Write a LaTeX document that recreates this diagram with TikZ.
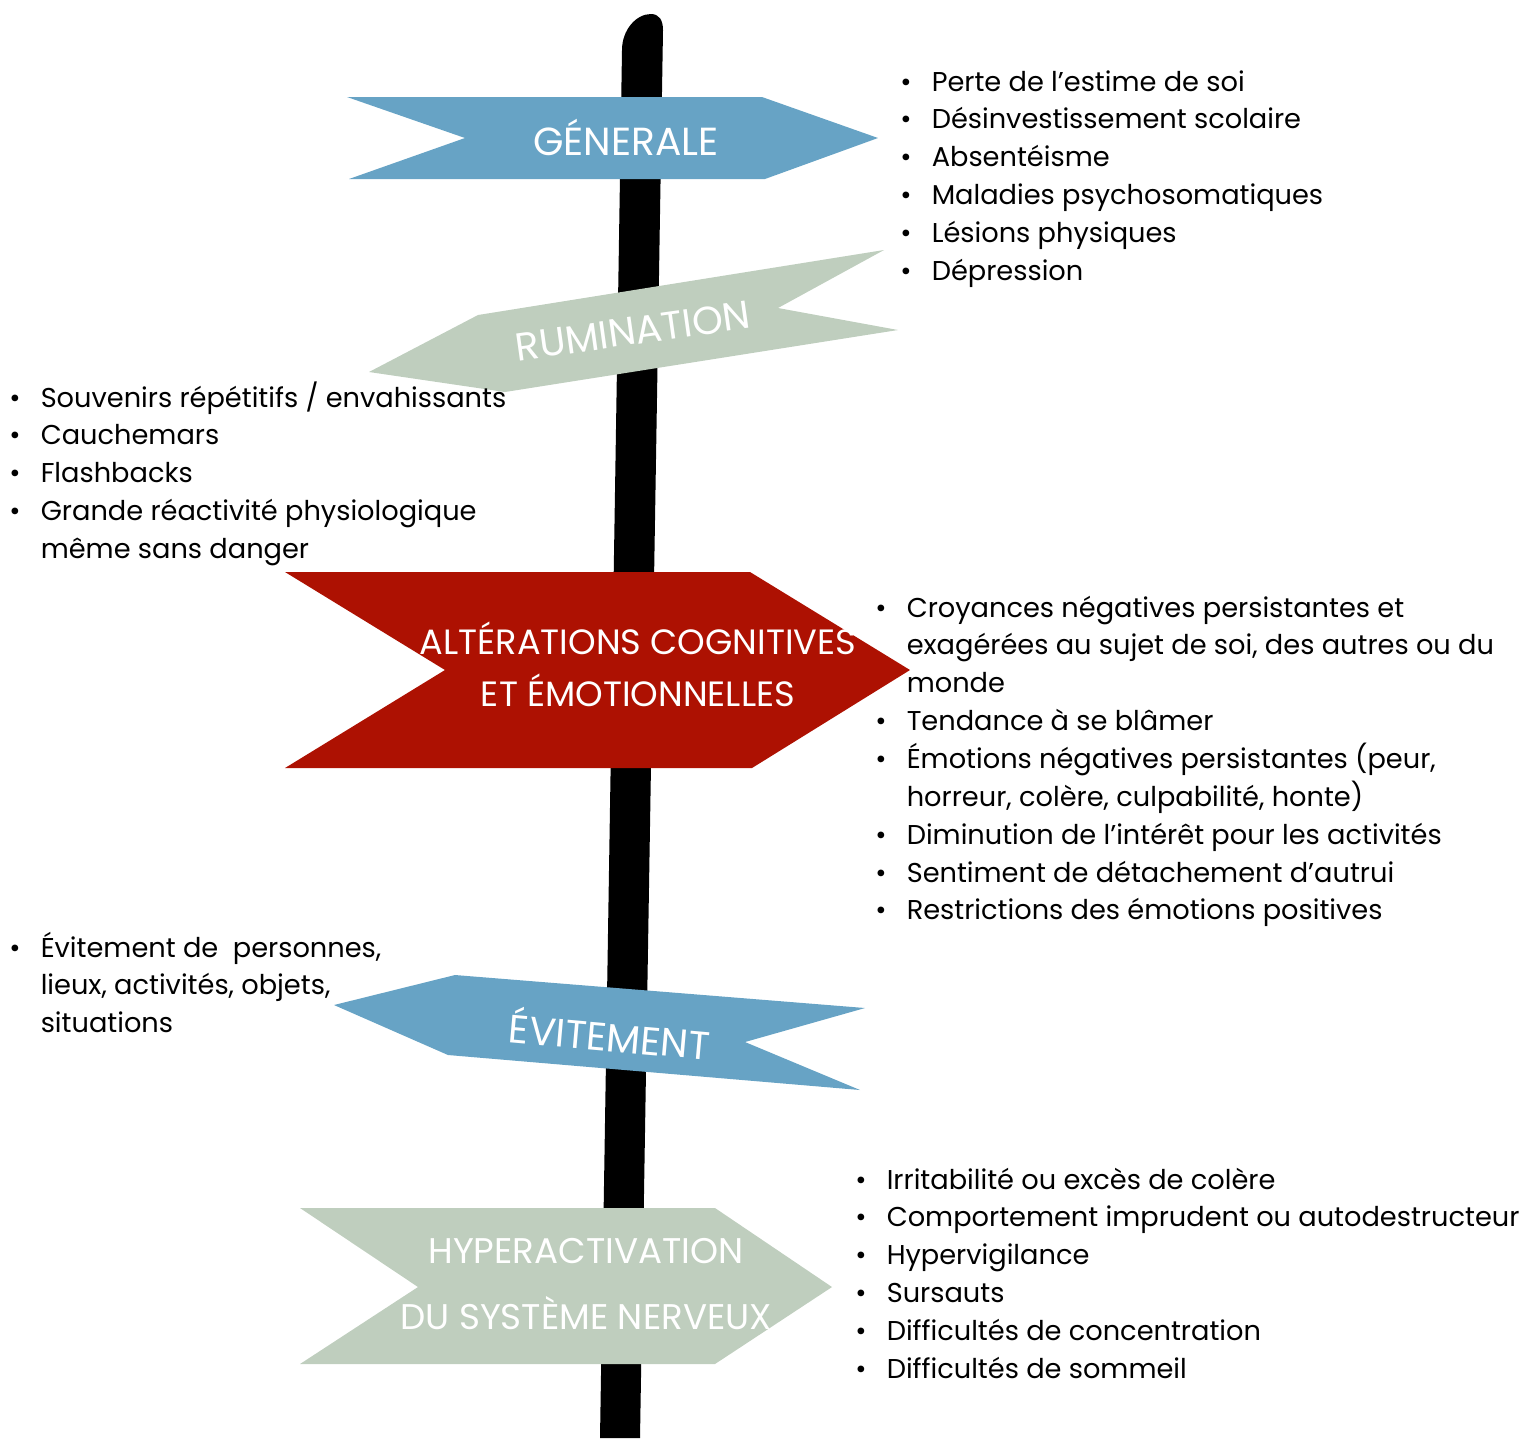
\documentclass[tikz,border=0pt]{standalone}
\usepackage{fontspec}
\setmainfont{Poppins}
\usepackage{xcolor}
\definecolor{signblue}{HTML}{67A3C5}
\definecolor{signsage}{HTML}{BFCEBE}
\definecolor{signred}{HTML}{AD1102}
\tikzset{
  signtxt/.style={text=white, inner sep=0pt, anchor=center},
  listtxt/.style={anchor=base west, inner sep=0pt, font=\fontsize{15.5}{21.55}\selectfont}
}
\newcommand{\bul}{\textbullet}

\begin{document}
\begin{tikzpicture}[x=0.02cm, y=-0.02cm]
		\useasboundingbox (0,0) rectangle (1523,1438);
		\fill[black] (622,50) .. controls (622,30) and (636,14) .. (651,14) .. controls (659,14) and (663,20) .. (663,30) -- (640,1438) -- (600,1438) -- cycle;
		\fill[signblue] (347,97) -- (762,97) -- (878,138) -- (765,179) -- (349,179) -- (465,138) -- cycle;
		\fill[signsage] (369,372) -- (478,315) -- (884,250) -- (778,308) -- (898,330) -- (505,392) -- cycle;
		\fill[signred] (285,572) -- (750,572) -- (910,670) -- (752,768) -- (285,768) -- (445,670) -- cycle;
		\fill[signblue] (334,1005) -- (455,975) -- (865,1008) -- (745,1042) -- (860,1090) -- (448,1055) -- cycle;
		\fill[signsage] (300,1208) -- (715,1208) -- (832,1287) -- (715,1364) -- (300,1364) -- (418,1287) -- cycle;
		\node(generale)[signtxt, font=\fontsize{22.3}{22.3}\selectfont] at (626,137) {GÉNERALE};
		\node(rumination)[signtxt, font=\fontsize{22.3}{22.3}\selectfont, rotate=8] at (633,331) {RUMINATION};
		\node(alterations)[signtxt, font=\fontsize{20}{29.5}\selectfont, align=center] at (638,664) {ALTÉRATIONS COGNITIVES\\ET ÉMOTIONNELLES};
		\node(evitement)[signtxt, font=\fontsize{22.5}{22.5}\selectfont, rotate=-5] at (610,1033) {ÉVITEMENT};
		\node(hyper)[signtxt, font=\fontsize{20.3}{38}\selectfont, align=center] at (586,1284) {HYPERACTIVATION\\DU SYSTÈME NERVEUX};
		\node(listgen)[listtxt] at (900,91) {\begin{tabular}[t]{@{}l@{\hspace{11.5pt}}l@{}}
			\bul & Perte de l’estime de soi\\
			\bul & Désinvestissement scolaire\\
			\bul & Absentéisme\\
			\bul & Maladies psychosomatiques\\
			\bul & Lésions physiques\\
			\bul & Dépression
		\end{tabular}};
		\node(listrum)[listtxt] at (9,407) {\begin{tabular}[t]{@{}l@{\hspace{11.5pt}}l@{}}
			\bul & Souvenirs répétitifs / envahissants\\
			\bul & Cauchemars\\
			\bul & Flashbacks\\
			\bul & Grande réactivité physiologique\\
			 & même sans danger
		\end{tabular}};
		\node(listalt)[listtxt] at (875,617) {\begin{tabular}[t]{@{}l@{\hspace{11.5pt}}l@{}}
			\bul & Croyances négatives persistantes et\\
			 & exagérées au sujet de soi, des autres ou du\\
			 & monde\\
			\bul & Tendance à se blâmer\\
			\bul & Émotions négatives persistantes (peur,\\
			 & horreur, colère, culpabilité, honte)\\
			\bul & Diminution de l’intérêt pour les activités\\
			\bul & Sentiment de détachement d’autrui\\
			\bul & Restrictions des émotions positives
		\end{tabular}};
		\node(listevi)[listtxt] at (9,957) {\begin{tabular}[t]{@{}l@{\hspace{11.5pt}}l@{}}
			\bul & Évitement de \ personnes,\\
			 & lieux, activités, objets,\\
			 & situations
		\end{tabular}};
		\node(listhyp)[listtxt] at (855,1189) {\begin{tabular}[t]{@{}l@{\hspace{11.5pt}}l@{}}
			\bul & Irritabilité ou excès de colère\\
			\bul & Comportement imprudent ou autodestructeur\\
			\bul & Hypervigilance\\
			\bul & Sursauts\\
			\bul & Difficultés de concentration\\
			\bul & Difficultés de sommeil
		\end{tabular}};
		\end{tikzpicture}
\end{document}
